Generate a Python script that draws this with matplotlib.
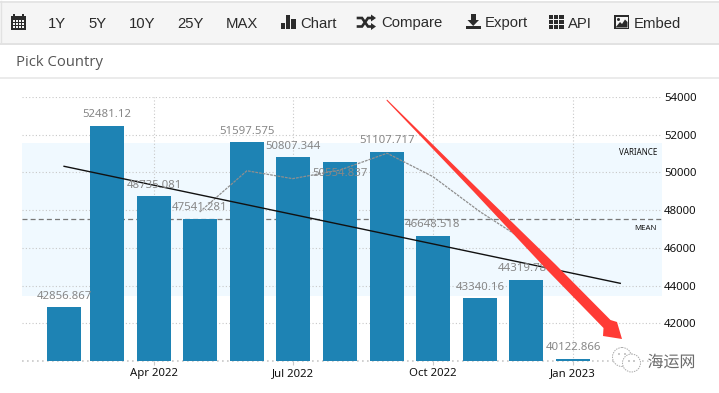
import datetime as dt
import matplotlib
matplotlib.use("Agg")
import matplotlib.pyplot as plt
import matplotlib.dates as mdates
import matplotlib.patheffects as pe
from matplotlib.patches import Rectangle, Polygon, Circle

# ---------- data ----------
months = ["2022-02-01", "2022-03-01", "2022-04-01", "2022-05-01", "2022-06-01", "2022-07-01",
          "2022-08-01", "2022-09-01", "2022-10-01", "2022-11-01", "2022-12-01", "2023-01-01"]
values = [42856.867, 52481.12, 48735.081, 47541.281, 51597.575, 50807.344,
          50554.837, 51107.717, 46648.518, 43340.16, 44319.786, 40122.866]
labels = ["42856.867", "52481.12", "48735.081", "47541.281", "51597.575", "50807.344",
          "50554.837", "51107.717", "46648.518", "43340.16", "44319.786", "40122.866"]
ma_months = ["2022-05-01", "2022-06-01", "2022-07-01", "2022-08-01", "2022-09-01",
             "2022-10-01", "2022-11-01", "2022-12-01", "2023-01-01"]
ma_values = [47903, 50089, 49670, 50125, 51017, 49780, 47913, 46354, 43608]
trend_months = ["2022-02-01", "2023-02-01"]
trend_values = [50325, 44120]
mean_value = 47514
band_low, band_high = 43447, 51576
y_ticks = [42000, 44000, 46000, 48000, 50000, 52000, 54000]
x_tick_dates = ["2022-04-01", "2022-07-01", "2022-10-01", "2023-01-01"]
x_tick_labels = ["Apr 2022", "Jul 2022", "Oct 2022", "Jan 2023"]
toolbar_items = [("1Y", 48), ("5Y", 88), ("10Y", 129), ("25Y", 177), ("MAX", 226),
                 ("Chart", 300), ("Compare", 381), ("Export", 485), ("API", 568), ("Embed", 634)]

W, H = 719, 393
DARK = "#2b2b2b"
LABEL = "#878787"
RED = "#ff3b35"
d = lambda s: mdates.date2num(dt.date.fromisoformat(s))

fig = plt.figure(figsize=(W / 100, H / 100), dpi=100, facecolor="white")
ax = fig.add_axes([22 / W, 1 - 361 / H, 640 / W, 264 / H])
ax.set_xlim(d("2022-02-01") - 27.6, d("2023-01-01") + 58.4)
ax.set_ylim(40000, 54000)
ax.xaxis_date()

ax.axhspan(band_low, band_high, color="#f0f9ff", lw=0, zorder=0)
ax.grid(True, color="#c8c8c8", ls=(0, (1, 2)), lw=0.8, zorder=1)
ax.set_axisbelow(True)
ax.axhline(mean_value, color="#777777", ls=(0, (4, 2.5)), lw=0.9, zorder=2)
ax.plot([ax.get_xlim()[0], ax.get_xlim()[1]], [40000, 40000], color="#c8c8c8",
        ls=(0, (1, 2)), lw=1.2, clip_on=False, zorder=1)

xs = [d(m) for m in months]
ax.bar(xs, values, width=22.4, color="#1e83b4", lw=0, zorder=3)
ax.plot([d(m) for m in ma_months], ma_values, color="#8f8f8f", lw=0.9,
        ls=(0, (2.2, 0.8)), zorder=4)
ax.plot([d(m) for m in trend_months], trend_values, color="#111111", lw=1.0, zorder=5)

for x, v, t in zip(xs, values, labels):
    off = -11.5 if t == "50554.837" else 11
    ax.annotate(t, (x, v), xytext=(0, off * 0.72), textcoords="offset points",
                ha="center", va="center", color=LABEL, fontsize=8.2,
                family="Noto Sans", zorder=6)

ax.text(0.992, 1 - (152 - 97) / 264, "VARIANCE", transform=ax.transAxes, ha="right",
        va="center", fontsize=5.8, color="#111111", family="Noto Sans")
ax.text(0.992, 1 - (228 - 97) / 264, "MEAN", transform=ax.transAxes, ha="right",
        va="center", fontsize=5.6, color="#111111", family="Noto Sans")

ax.set_yticks(y_ticks)
ax.set_yticklabels([str(v) for v in y_ticks], fontsize=8.2, family="Noto Sans", color="#111111")
ax.yaxis.tick_right()
ax.tick_params(axis="y", length=0, pad=1.5)
ax.set_xticks([d(s) for s in x_tick_dates])
ax.set_xticklabels(x_tick_labels, fontsize=8.2, family="Noto Sans", color="#111111")
ax.tick_params(axis="x", length=3, width=0.8, color="#c8c8c8", pad=2)
for s in ax.spines.values():
    s.set_visible(False)

# ---------- page chrome, in pixel coordinates ----------
ov = fig.add_axes([0, 0, 1, 1], facecolor="none")
ov.set_xlim(0, W)
ov.set_ylim(H, 0)
ov.axis("off")

ov.add_patch(Rectangle((0, 1), W, 42.5, fc="#f5f5f5", ec="none"))
ov.plot([0, W], [1.5, 1.5], color="#e2e2e2", lw=1.2)
ov.plot([0.5, 0.5], [1, 43], color="#e2e2e2", lw=1)
ov.plot([0, W], [43.5, 43.5], color="#e2e2e2", lw=1.4)
ov.plot([0, W], [77.5, 77.5], color="#e8e8e8", lw=1.2)
for t, x in toolbar_items:
    ov.text(x, 23.5, t, fontsize=10.7, color=DARK, family="Liberation Sans", ha="left", va="center")
ov.text(16, 63, "Pick Country", fontsize=10.7, color="#555555", family="Open Sans", ha="left", va="center")


def box(x, y, w, h, c=DARK):
    ov.add_patch(Rectangle((x, y), w, h, fc=c, ec="none"))


# calendar
box(11, 16, 15, 13.5)
box(13, 14, 2, 3); box(22, 14, 2, 3)
for r in range(3):
    for c in range(4):
        box(12.5 + c * 3.2, 20 + r * 3, 2.2, 2, "#f5f5f5")
# chart
box(281, 23, 4, 6); box(286, 15, 4, 14); box(291, 19, 4.5, 10)
# shuffle
ov.plot([358, 362, 368, 372], [18, 18, 26.5, 26.5], color=DARK, lw=1.9, solid_joinstyle="miter")
ov.plot([358, 362, 368, 372], [26.5, 26.5, 18, 18], color=DARK, lw=1.9, solid_joinstyle="miter")
ov.add_patch(Polygon([(371, 14.5), (376, 18), (371, 21.5)], fc=DARK, ec="none"))
ov.add_patch(Polygon([(371, 23), (376, 26.5), (371, 30)], fc=DARK, ec="none"))
# export
box(471, 14, 4.5, 7)
ov.add_patch(Polygon([(467.5, 20), (479, 20), (473.2, 26)], fc=DARK, ec="none"))
box(466, 26, 14.5, 3.2)
# API grid
for r in range(3):
    for c in range(3):
        box(549 + c * 5.2, 15 + r * 5, 4.2, 4)
# embed
box(614, 15, 15, 14)
box(615.5, 16.5, 12, 11, "#f5f5f5")
ov.add_patch(Polygon([(615.5, 27.5), (620, 22), (622, 24), (625, 19.5), (627.5, 22), (627.5, 27.5)],
                     fc=DARK, ec="none"))
ov.add_patch(Circle((618.5, 19.5), 1.5, fc=DARK, ec="none"))

# red arrow
ov.add_patch(Polygon([(387, 99.5), (477, 188), (555.5, 264.5), (610.5, 320), (617, 322), (622, 339),
                      (603, 336), (603.5, 328), (548.5, 271.5), (473.5, 191.5), (386.5, 100.5)],
                     fc=RED, ec="none", zorder=10))

# watermark
for c, r in [((622, 357), 9.5), ((631.5, 363), 9)]:
    ov.add_patch(Circle(c, r, fc="white", ec="#aaaaaa", lw=0.7, ls=(0, (1.5, 1)), zorder=11))
for c in [(619, 354), (625, 354), (629, 361), (634, 361)]:
    ov.add_patch(Circle(c, 0.7, fc="#777777", ec="none", zorder=12))
ov.text(671.5, 362.5, "海运网", fontsize=11.5, color="#6b6b6b", style="italic",
        family=["Noto Sans CJK SC", "DejaVu Sans"], ha="center", va="center", zorder=12,
        path_effects=[pe.withStroke(linewidth=1.6, foreground="white")])

fig.savefig("out.png", dpi=100)
